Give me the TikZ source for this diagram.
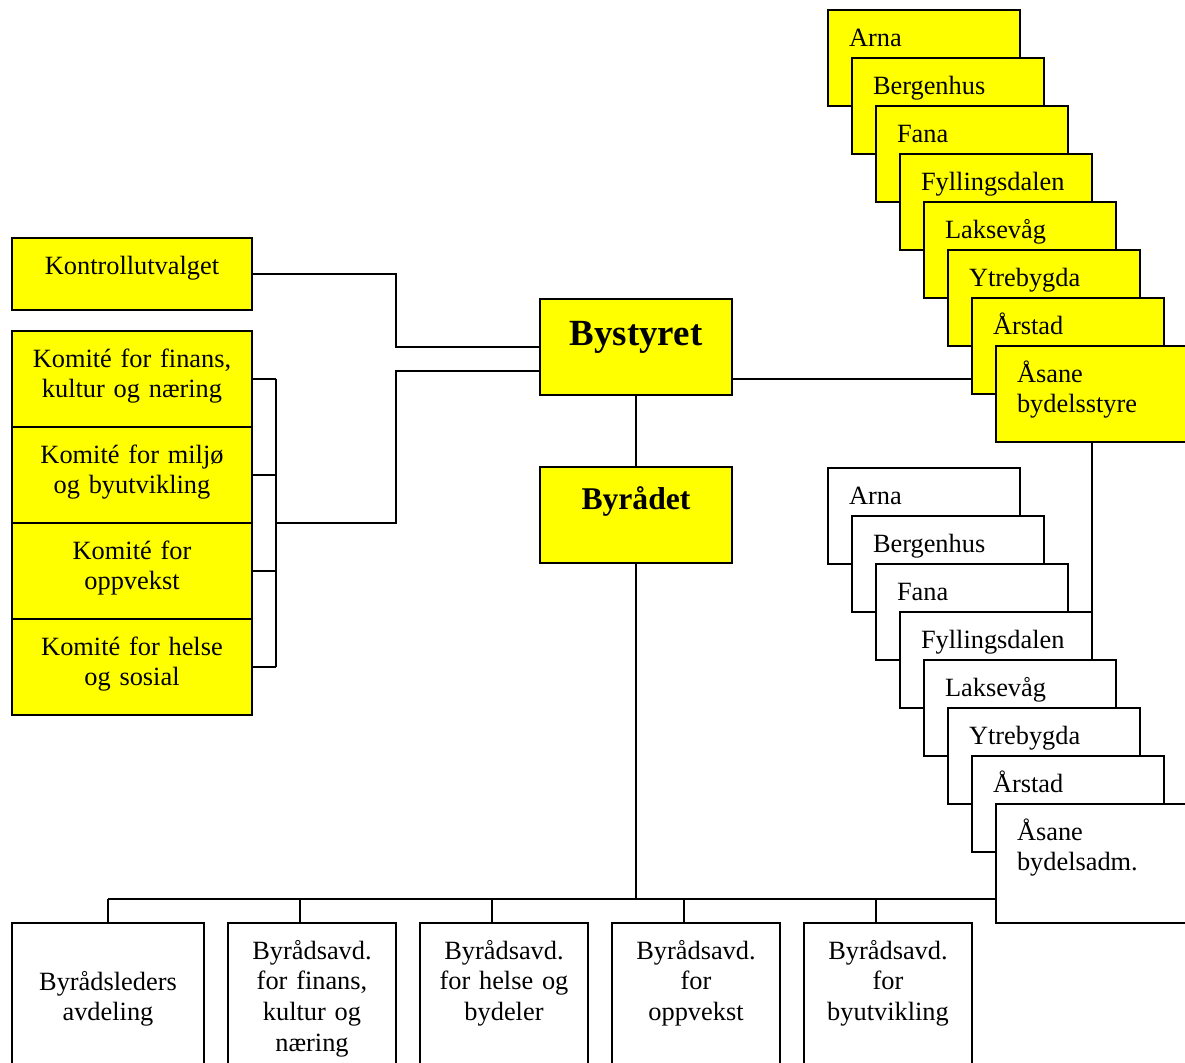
\documentclass[tikz,border=0pt]{standalone}
\usepackage{fontspec}
\setmainfont{Liberation Serif}
\usepackage{tikz}
\usetikzlibrary{positioning,calc,backgrounds}
\definecolor{bokgul}{RGB}{255,255,0}
\newcommand{\boksfont}{\fontsize{15pt}{17.6pt}\selectfont}

\begin{document}
\begin{tikzpicture}[
    boks/.style={draw,line width=1.1pt,outer sep=0pt,inner sep=0pt,font=\boksfont},
    topp/.style={boks,fill=bokgul,text width=3.84cm,align=center},
    komite/.style={boks,fill=bokgul,text width=4.8cm,align=center,
                   text height=0.72cm,text depth=1.2cm},
    styre/.style={boks,fill=bokgul,anchor=north west,text width=3cm,
                  inner xsep=0.42cm,align=left,text height=0.72cm,text depth=1.2cm},
    adm/.style={styre,fill=white},
    avd/.style={boks,fill=white,text width=3.36cm,align=center,
                text height=0.72cm,text depth=2.88cm},
    linje/.style={line width=1.1pt}]
  \path[use as bounding box] (0,0) rectangle (23.7,-21.24);
  \clip (0,0) rectangle (23.7,-21.24);
  % bystyret og byraadet
  \node[topp,text height=0.92cm,text depth=1cm,
        font=\fontsize{21pt}{25pt}\selectfont\bfseries] (bystyret) at (12.72,-6.94) {Bystyret};
  \node[topp,below=1.44cm of bystyret,text height=0.84cm,text depth=1.08cm,
        font=\fontsize{18pt}{22pt}\selectfont\bfseries] (byradet) {Byrådet};
  % kontrollutvalg og komiteer
  \node[komite,text depth=0.72cm,anchor=north west] (kontroll) at (0.24,-4.76) {Kontrollutvalget};
  \node[komite,anchor=north west] (k1) at (0.24,-6.62) {Komité for finans,\\kultur og næring};
  \node[komite,below=0pt of k1] (k2) {Komité for miljø\\og byutvikling};
  \node[komite,below=0pt of k2] (k3) {Komité for\\oppvekst};
  \node[komite,below=0pt of k3] (k4) {Komité for helse\\og sosial};
  % bydelsstyrer og bydelsadministrasjoner
  \foreach \navn [count=\i from 0] in {Arna,Bergenhus,Fana,Fyllingsdalen,Laksevåg,Ytrebygda,Årstad}
    \node[styre] (s\i) at ({16.56+0.48*\i},{-0.2-0.96*\i}) {\navn};
  \node[styre] (s7) at (19.92,-6.92) {Åsane\\bydelsstyre};
  \foreach \navn [count=\i from 0] in {Arna,Bergenhus,Fana,Fyllingsdalen,Laksevåg,Ytrebygda,Årstad}
    \node[adm] (a\i) at ({16.56+0.48*\i},{-9.36-0.96*\i}) {\navn};
  \node[adm,text depth=1.66cm] (a7) at (19.92,-16.08) {Åsane\\bydelsadm.};
  % byraadsavdelinger
  \node[avd,text width=3.84cm,text height=1.34cm,text depth=2.26cm,
        anchor=north west] (leder) at (0.24,-18.46) {Byrådsleders\\avdeling};
  \node[avd,right=0.48cm of leder] (fin) {Byrådsavd.\\for finans,\\kultur og\\næring};
  \node[avd,right=0.48cm of fin] (helse) {Byrådsavd.\\for helse og\\bydeler};
  \node[avd,right=0.48cm of helse] (oppv) {Byrådsavd.\\for\\oppvekst};
  \node[avd,right=0.48cm of oppv] (byutv) {Byrådsavd.\\for\\byutvikling};
  \coordinate (bus) at ($(leder.north)+(0,0.48)$);
  \coordinate (midt) at ($(kontroll.east)!.5!(bystyret.west)$);

  \begin{scope}[on background layer]
  \begin{scope}[linje]
    \draw (kontroll.east) -| (midt) |- (bystyret.west);
    \draw ([yshift=-0.48cm]bystyret.west) -| (midt |- k2.south)
      -- ([xshift=0.48cm]k2.south east);
    \foreach \k in {k1,k2,k3,k4}
      \draw (\k.east) -- ++(0.48,0);
    \draw ([xshift=0.48cm]k1.east) -- ([xshift=0.48cm]k4.east);
    \draw ([yshift=-0.64cm]bystyret.east) -- ([yshift=-0.64cm]bystyret.east -| s7.west);
    \draw (s7.south) -- (a7.north);
    \draw (bystyret.south) -- (byradet.north);
    \draw (byradet.south) -- (byradet.south |- bus);
    \draw (leder.north |- bus) -- (bus -| a7.west);
    \draw (leder.north) -- (bus);
    \foreach \b in {fin,helse,oppv,byutv}
      \draw ([xshift=-0.24cm]\b.north) -- ([xshift=-0.24cm]\b.north |- bus);
  \end{scope}
  \end{scope}
\end{tikzpicture}
\end{document}
